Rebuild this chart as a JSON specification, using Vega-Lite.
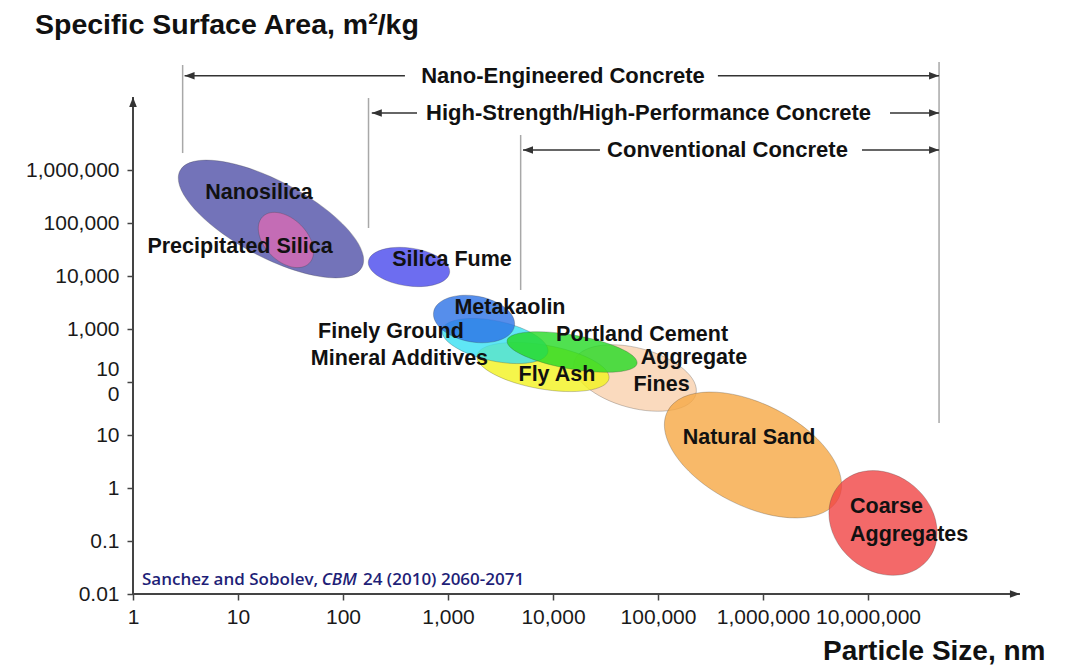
{
  "$schema": "https://vega.github.io/schema/vega-lite/v6.json",
  "width": 912,
  "height": 583,
  "autosize": {"type": "none"},
  "padding": {"left": 133, "top": 11, "right": 21, "bottom": 74},
  "background": "white",
  "config": {"view": {"stroke": null}, "font": "Liberation Sans"},
  "datasets": {
    "ellipses": [
      {"material": "Nanosilica", "x": 20.6, "y": 119000},
      {"material": "Precipitated Silica", "x": 28.6, "y": 47800},
      {"material": "Silica Fume", "x": 425, "y": 14800},
      {"material": "Aggregate Fines", "x": 60400, "y": 119},
      {"material": "Fly Ash", "x": 8030, "y": 192},
      {"material": "Finely Ground Mineral Additives", "x": 2805, "y": 594},
      {"material": "Portland Cement", "x": 15200, "y": 368},
      {"material": "Metakaolin", "x": 1770, "y": 1545},
      {"material": "Natural Sand", "x": 803000, "y": 4.2},
      {"material": "Coarse Aggregates", "x": 13900000, "y": 0.219}
    ],
    "labelsCenter": [
      {"text": "Nanosilica", "x": 15.85, "y": 368000},
      {"text": "Precipitated Silica", "x": 10.45, "y": 35200},
      {"text": "Silica Fume", "x": 1092, "y": 20000},
      {"text": "Metakaolin", "x": 3890, "y": 2490},
      {"text": "Finely Ground", "x": 286, "y": 878},
      {"text": "Mineral Additives", "x": 345, "y": 272},
      {"text": "Portland Cement", "x": 70500, "y": 771},
      {"text": "Aggregate", "x": 220000, "y": 284},
      {"text": "Fines", "x": 108000, "y": 87.8},
      {"text": "Fly Ash", "x": 10900, "y": 135.6},
      {"text": "Natural Sand", "x": 736000, "y": 8.78}
    ],
    "labelsLeft": [
      {"text": "Coarse", "x": 6740000, "y": 0.438},
      {"text": "Aggregates", "x": 6740000, "y": 0.13}
    ],
    "concrete": [
      {"text": "Nano-Engineered Concrete", "x": 12450, "y": 60100000},
      {"text": "High-Strength/High-Performance Concrete", "x": 81300, "y": 11900000},
      {"text": "Conventional Concrete", "x": 459000, "y": 2380000}
    ],
    "arrows": [
      {"x": 3.1, "x2": 389, "y": 60100000, "y2": 60100000},
      {"x": 372000, "x2": 47500000, "y": 60100000, "y2": 60100000},
      {"x": 188, "x2": 507, "y": 11900000, "y2": 11900000},
      {"x": 16200000, "x2": 47500000, "y": 11900000, "y2": 11900000},
      {"x": 5180, "x2": 28000, "y": 2380000, "y2": 2380000},
      {"x": 8770000, "x2": 47500000, "y": 2380000, "y2": 2380000}
    ],
    "guides": [
      {"x": 2.97, "x2": 2.97, "y": 95700000, "y2": 2090000},
      {"x": 175, "x2": 175, "y": 22800000, "y2": 80500},
      {"x": 4920, "x2": 4920, "y": 4570000, "y2": 5450},
      {"x": 47500000, "x2": 47500000, "y": 109000000, "y2": 16.8}
    ],
    "axislines": [
      {"x": 1, "x2": 280000000, "y": 0.01, "y2": 0.01},
      {"x": 1, "x2": 1, "y": 0.01, "y2": 23800000}
    ],
    "heads": [
      {"x": 3.1, "y": 60100000, "dir": "left"},
      {"x": 47500000, "y": 60100000, "dir": "right"},
      {"x": 188, "y": 11900000, "dir": "left"},
      {"x": 47500000, "y": 11900000, "dir": "right"},
      {"x": 5180, "y": 2380000, "dir": "left"},
      {"x": 47500000, "y": 2380000, "dir": "right"},
      {"x": 1, "y": 23800000, "dir": "up"},
      {"x": 280000000, "y": 0.01, "dir": "right"}
    ],
    "title": [
      {"text": "Specific Surface Area, m²/kg", "x": 0.1166, "y": 544000000}
    ],
    "citeNormal": [
      {"text": "Sanchez and Sobolev,", "x": 1.218, "y": 0.01837},
      {"text": "24 (2010) 2060-2071", "x": 155, "y": 0.01837}
    ],
    "citeItalic": [
      {"text": "CBM", "x": 62.6, "y": 0.01837}
    ]
  },
  "encoding": {
    "x": {
      "field": "x",
      "type": "quantitative",
      "scale": {"type": "log", "domain": [1, 485000000], "nice": false},
      "axis": {
        "values": [1, 10, 100, 1000, 10000, 100000, 1000000, 10000000],
        "format": ",",
        "domain": false,
        "grid": false,
        "tickSize": 6,
        "tickWidth": 1.5,
        "tickColor": "#444",
        "labelFontSize": 21,
        "labelFont": "Liberation Sans",
        "labelColor": "#1a1a1a",
        "labelPadding": 6,
        "labelOverlap": false,
        "labelFlush": false,
        "labelBound": false,
        "title": "Particle Size, nm",
        "titleFont": "Liberation Sans",
        "titleFontSize": 28,
        "titleFontWeight": "bold",
        "titleColor": "#111",
        "titleAnchor": "end",
        "titlePadding": 10
      }
    },
    "y": {
      "field": "y",
      "type": "quantitative",
      "scale": {"type": "log", "domain": [0.01, 1000000000], "nice": false},
      "axis": {
        "values": [0.01, 0.1, 1, 10, 100, 1000, 10000, 100000, 1000000],
        "labelExpr": "datum.value == 100 ? ['10', '0'] : format(datum.value, ',')",
        "labelLineHeight": 25,
        "labelOffset": {"condition": {"test": "datum.value == 100", "value": -12.5}, "value": 0},
        "domain": false,
        "grid": false,
        "tickSize": 6,
        "tickWidth": 1.5,
        "tickColor": "#444",
        "labelFontSize": 21,
        "labelFont": "Liberation Sans",
        "labelColor": "#1a1a1a",
        "labelPadding": 8,
        "labelOverlap": false,
        "labelFlush": false,
        "labelBound": false,
        "title": null
      }
    }
  },
  "resolve": {"scale": {"shape": "independent", "color": "independent"}},
  "layer": [
    {
      "data": {"name": "guides"},
      "mark": {"type": "rule", "color": "#A8A8A8", "strokeWidth": 1.5},
      "encoding": {"x2": {"field": "x2"}, "y2": {"field": "y2"}}
    },
    {
      "data": {"name": "ellipses"},
      "mark": {"type": "point", "filled": true, "opacity": 1, "fillOpacity": 0.8, "size": 4, "stroke": "#3a3a3a", "strokeWidth": 0.8, "strokeOpacity": 0.35},
      "encoding": {
        "shape": {
          "field": "material",
          "type": "nominal",
          "legend": null,
          "scale": {
            "domain": ["Nanosilica", "Precipitated Silica", "Silica Fume", "Aggregate Fines", "Fly Ash", "Finely Ground Mineral Additives", "Portland Cement", "Metakaolin", "Natural Sand", "Coarse Aggregates"],
            "range": [
              "M90.9,48.4C81.1,66.9,32.4,60.3,-17.8,33.6C-68.1,6.8,-100.8,-29.8,-90.9,-48.4C-81.1,-66.9,-32.4,-60.3,17.8,-33.6C68.1,-6.8,100.8,29.8,90.9,48.4Z",
              "M23.3,23.3C15.1,31.5,-2,27.7,-14.9,14.9C-27.7,2,-31.5,-15.1,-23.3,-23.3C-15.1,-31.5,2,-27.7,14.9,-14.9C27.7,-2,31.5,15.1,23.3,23.3Z",
              "M40.6,5.7C39.1,16.1,19.8,22,-2.6,18.8C-25.1,15.7,-42.1,4.7,-40.6,-5.7C-39.1,-16.1,-19.8,-22,2.6,-18.8C25.1,-15.7,42.1,-4.7,40.6,5.7Z",
              "M60.9,16.3C56.6,32.3,25.9,38,-7.8,29C-41.4,20,-65.1,-0.3,-60.9,-16.3C-56.6,-32.3,-25.9,-38,7.8,-29C41.4,-20,65.1,0.3,60.9,16.3Z",
              "M66,11.6C63.9,23.6,32.6,28.1,-3.8,21.7C-40.3,15.3,-68.1,0.3,-66,-11.6C-63.9,-23.6,-32.6,-28.1,3.8,-21.7C40.3,-15.3,68.1,-0.3,66,11.6Z",
              "M52.8,11.2C50.5,22,25,25.8,-4.2,19.6C-33.3,13.4,-55.1,-0.4,-52.8,-11.2C-50.5,-22,-25,-25.8,4.2,-19.6C33.3,-13.4,55.1,0.4,52.8,11.2Z",
              "M65,11.5C63.4,20.7,33,23.1,-3,16.7C-38.9,10.4,-66.6,-2.2,-65,-11.5C-63.4,-20.7,-33,-23.1,3,-16.7C38.9,-10.4,66.6,2.2,65,11.5Z",
              "M40.4,7.1C38.2,19.6,18.3,26.6,-4,22.7C-26.3,18.7,-42.6,5.4,-40.4,-7.1C-38.2,-19.6,-18.3,-26.6,4,-22.7C26.3,-18.7,42.6,-5.4,40.4,7.1Z",
              "M85.5,43.6C72.8,68.7,24.1,69.5,-23.2,45.4C-70.4,21.4,-98.3,-18.5,-85.5,-43.6C-72.8,-68.7,-24.1,-69.5,23.2,-45.4C70.4,-21.4,98.3,18.5,85.5,43.6Z",
              "M44.4,37.3C27.4,57.6,-6.3,57.4,-30.9,36.8C-55.4,16.2,-61.5,-17,-44.4,-37.3C-27.4,-57.6,6.3,-57.4,30.9,-36.8C55.4,-16.2,61.5,17,44.4,37.3Z"
            ]
          }
        },
        "color": {
          "field": "material",
          "type": "nominal",
          "legend": null,
          "scale": {
            "domain": ["Nanosilica", "Precipitated Silica", "Silica Fume", "Aggregate Fines", "Fly Ash", "Finely Ground Mineral Additives", "Portland Cement", "Metakaolin", "Natural Sand", "Coarse Aggregates"],
            "range": ["#5050A8", "#D86AB4", "#4848EC", "#F9D1AE", "#F3F31E", "#37E0F3", "#24DA24", "#2C72E6", "#F6A844", "#F04444"]
          }
        }
      }
    },
    {
      "data": {"name": "axislines"},
      "mark": {"type": "rule", "color": "#444", "strokeWidth": 2},
      "encoding": {"x2": {"field": "x2"}, "y2": {"field": "y2"}}
    },
    {
      "data": {"name": "arrows"},
      "mark": {"type": "rule", "color": "#333", "strokeWidth": 1.5},
      "encoding": {"x2": {"field": "x2"}, "y2": {"field": "y2"}}
    },
    {
      "data": {"name": "heads"},
      "mark": {"type": "point", "filled": true, "opacity": 1, "color": "#333", "size": 4},
      "encoding": {
        "shape": {
          "field": "dir",
          "type": "nominal",
          "legend": null,
          "scale": {
            "domain": ["left", "right", "up"],
            "range": ["M0,0L10,-3.8L10,3.8Z", "M0,0L-10,-3.8L-10,3.8Z", "M0,0L-3.8,10L3.8,10Z"]
          }
        }
      }
    },
    {
      "data": {"name": "labelsCenter"},
      "mark": {"type": "text", "align": "center", "baseline": "middle", "fontSize": 21.5, "fontWeight": "bold", "font": "Liberation Sans", "color": "#111"},
      "encoding": {"text": {"field": "text"}}
    },
    {
      "data": {"name": "labelsLeft"},
      "mark": {"type": "text", "align": "left", "baseline": "middle", "fontSize": 21.5, "fontWeight": "bold", "font": "Liberation Sans", "color": "#111"},
      "encoding": {"text": {"field": "text"}}
    },
    {
      "data": {"name": "concrete"},
      "mark": {"type": "text", "align": "center", "baseline": "middle", "fontSize": 22, "fontWeight": "bold", "font": "Liberation Sans", "color": "#111"},
      "encoding": {"text": {"field": "text"}}
    },
    {
      "data": {"name": "title"},
      "mark": {"type": "text", "align": "left", "baseline": "middle", "fontSize": 28.5, "fontWeight": "bold", "font": "Liberation Sans", "color": "#111"},
      "encoding": {"text": {"field": "text"}}
    },
    {
      "data": {"name": "citeNormal"},
      "mark": {"type": "text", "align": "left", "baseline": "middle", "fontSize": 17, "fontWeight": 600, "font": "Open Sans", "color": "#1F1F78"},
      "encoding": {"text": {"field": "text"}}
    },
    {
      "data": {"name": "citeItalic"},
      "mark": {"type": "text", "align": "left", "baseline": "middle", "fontSize": 17, "fontWeight": 600, "fontStyle": "italic", "font": "Open Sans", "color": "#1F1F78"},
      "encoding": {"text": {"field": "text"}}
    }
  ]
}
